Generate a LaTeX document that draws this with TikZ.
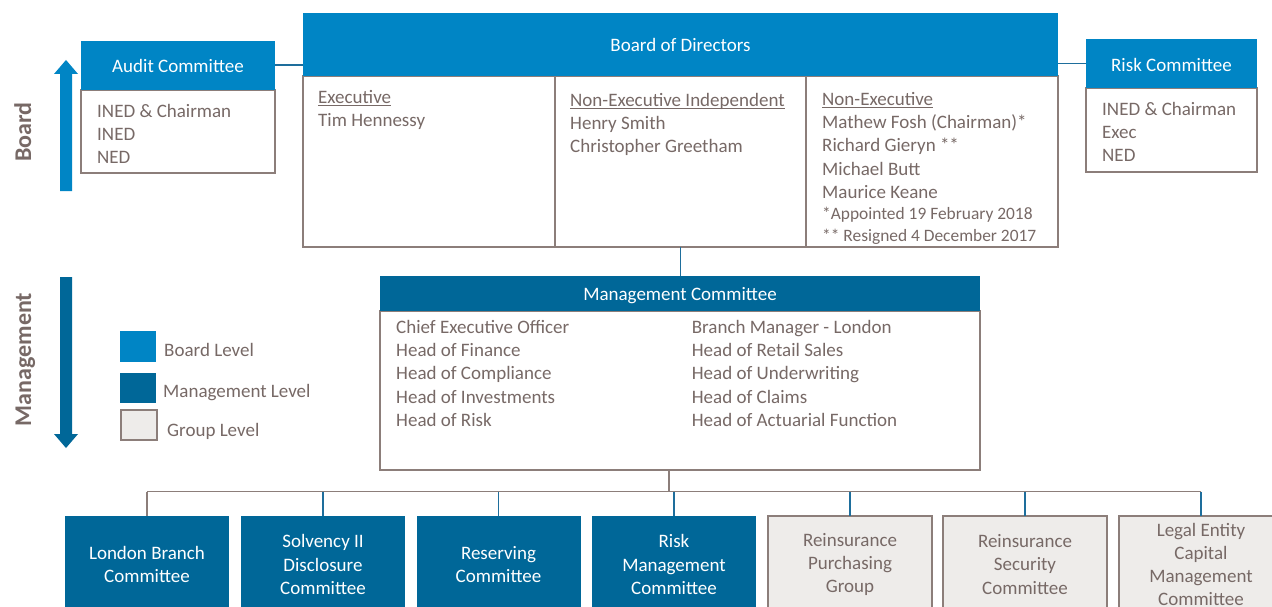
\documentclass[tikz,border=0pt]{standalone}
\usepackage{fontspec}
\setmainfont{Carlito}
\definecolor{boardblue}{HTML}{0085C5}
\definecolor{mgmtblue}{HTML}{006798}
\definecolor{grpfill}{HTML}{EEECEA}
\definecolor{edgegray}{HTML}{8C7E7A}
\definecolor{txtgray}{HTML}{776966}
\definecolor{conblue}{HTML}{1E6E9C}
\newcommand\myul[1]{\setbox0\hbox{#1}\rlap{\rule[-2.6pt]{\wd0}{0.9pt}}\box0}
\newcommand\bodysize{\fontsize{19}{23.3}\selectfont}
\newcommand\footsize{\fontsize{17.4}{22}\selectfont}
\begin{document}
\begin{tikzpicture}[x=1pt,y=-1pt,
  box/.style={anchor=north west, inner sep=0pt, outer sep=0pt},
  hdrboard/.style={box, fill=boardblue, text=white, font=\bodysize, text height=15.2pt, text depth=0pt},
  hdrmgmt/.style={box, fill=mgmtblue, text=white, font=\bodysize, text height=15.2pt, text depth=0pt},
  bodybox/.style={box, draw=edgegray, line width=1.6pt, fill=white},
  txt/.style={anchor=north west, inner sep=0pt, align=left, text=txtgray, font=\bodysize},
  ftxt/.style={anchor=north west, inner sep=0pt, align=left, text=txtgray, font=\footsize},
  lgtxt/.style={anchor=base west, inner sep=0pt, text=txtgray, font=\bodysize},
  side/.style={rotate=90, anchor=base, inner sep=0pt, text=txtgray, font=\bfseries\fontsize{24}{28}\selectfont},
  mbox/.style={box, fill=mgmtblue, text=white, font=\bodysize, align=center, minimum width=164pt, minimum height=97pt},
  gbox/.style={box, fill=grpfill, draw=edgegray, line width=1.6pt, text=txtgray, font=\bodysize, align=center, minimum width=164pt, minimum height=97pt},
  bconn/.style={conblue, line width=1.8pt},
  gconn/.style={edgegray, line width=1.8pt}
]
\useasboundingbox (0,0) rectangle (1272,607);
\fill[white] (0,0) rectangle (1272,607);

% side labels and arrows
\fill[boardblue] (60,191) -- (60,74) -- (54,74) -- (66,60) -- (78,74) -- (72,74) -- (72,191) -- cycle;
\fill[mgmtblue] (60,277) -- (60,434) -- (54,434) -- (66,448) -- (78,434) -- (72,434) -- (72,277) -- cycle;
\node[side] (lblboard) at (31,132) {Board};
\node[side] (lblmgmt) at (31,359.5) {Management};

% Audit committee
\node[bodybox, minimum width=194pt, minimum height=83pt] (auditbody) at (81,90) {};
\node[hdrboard, minimum width=194pt, minimum height=49.3pt] (audithdr) at (81,40.7) {Audit Committee};
\node[txt] (audittxt) at (97,101) {\rule{0pt}{16pt}INED \& Chairman\\INED\\NED};

% Board of directors
\node[bodybox, minimum width=252pt, minimum height=171pt] (exec) at (303,76) {};
\node[bodybox, minimum width=251pt, minimum height=171pt] (nei) at (555,76) {};
\node[bodybox, minimum width=252pt, minimum height=171pt] (ne) at (806,76) {};
\node[hdrboard, minimum width=755pt, minimum height=63.3pt] (boardhdr) at (303,12.7) {Board of Directors};
\node[txt] (exectxt) at (318,87) {\rule{0pt}{16pt}\myul{Executive}\\Tim Hennessy};
\node[txt] (neitxt) at (570,90) {\rule{0pt}{16pt}\myul{Non-Executive Independent}\\Henry Smith\\Christopher Greetham};
\node[txt] (netxt) at (822,89) {\rule{0pt}{16pt}\myul{Non-Executive}\\Mathew Fosh (Chairman)*\\Richard Gieryn **\\Michael Butt\\Maurice Keane};
\node[ftxt] (nefoot) at (822,205) {\rule{0pt}{14pt}*Appointed 19 February 2018\\** Resigned 4 December 2017};

% Risk committee
\node[bodybox, minimum width=171pt, minimum height=84pt] (riskbody) at (1086,88) {};
\node[hdrboard, minimum width=171pt, minimum height=49pt] (riskhdr) at (1086,39) {Risk Committee};
\node[txt] (risktxt) at (1102,99) {\rule{0pt}{16pt}INED \& Chairman\\Exec\\NED};

% Legend
\node[box, fill=boardblue, minimum width=36pt, minimum height=31pt] (lgb) at (120,331) {};
\node[box, fill=mgmtblue, minimum width=36pt, minimum height=30pt] (lgm) at (120,373) {};
\node[box, fill=grpfill, draw=edgegray, line width=1.4pt, minimum width=36pt, minimum height=30pt] (lgg) at (121,410) {};
\node[lgtxt] (lgbt) at (164,356) {Board Level};
\node[lgtxt] (lgmt) at (163,397) {Management Level};
\node[lgtxt] (lggt) at (167,436) {Group Level};

% Management committee
\node[bodybox, minimum width=600pt, minimum height=159.3pt] (mgmtbody) at (380,310.7) {};
\node[hdrmgmt, minimum width=600pt, minimum height=34.7pt] (mgmthdr) at (380,276) {Management Committee};
\node[txt] (mgl) at (396,317) {\rule{0pt}{16pt}Chief Executive Officer\\Head of Finance\\Head of Compliance\\Head of Investments\\Head of Risk};
\node[txt] (mgr) at (691.7,317) {\rule{0pt}{16pt}Branch Manager - London\\Head of Retail Sales\\Head of Underwriting\\Head of Claims\\Head of Actuarial Function};

% Sub-committees
\node[mbox] (lon) at (65,516) {London Branch\\Committee};
\node[mbox] (sol) at (241,516) {Solvency II\\Disclosure\\Committee};
\node[mbox] (res) at (416.5,516) {Reserving\\Committee};
\node[mbox] (rmc) at (592,516) {Risk\\Management\\Committee};
\node[gbox] (rpg) at (768,516) {Reinsurance\\Purchasing\\Group};
\node[gbox] (rsc) at (943,516) {Reinsurance\\Security\\Committee};
\node[gbox] (lec) at (1119,516) {Legal Entity\\Capital\\Management\\Committee};

% connectors
\draw[bconn] (audithdr.east) -- (audithdr.east -| boardhdr.west);
\draw[bconn] (riskhdr.west) -- (riskhdr.west -| boardhdr.east);
\draw[bconn] (nei.south) -- (nei.south |- mgmthdr.north);
\coordinate (busjoin) at (669,491.5);
\draw[gconn] (mgmtbody.south -| busjoin) -- (busjoin);
\draw[gconn] (lon.north |- busjoin) -- (lec.north |- busjoin);
\draw[gconn] (lon.north |- busjoin) -- (lon.north);
\draw[bconn] (sol.north |- busjoin) -- (sol.north);
\draw[bconn] (res.north |- busjoin) -- (res.north);
\draw[bconn] (rmc.north |- busjoin) -- (rmc.north);
\draw[bconn] (rpg.north |- busjoin) -- (rpg.north);
\draw[bconn] (rsc.north |- busjoin) -- (rsc.north);
\draw[bconn] (lec.north |- busjoin) -- (lec.north);
\end{tikzpicture}
\end{document}
